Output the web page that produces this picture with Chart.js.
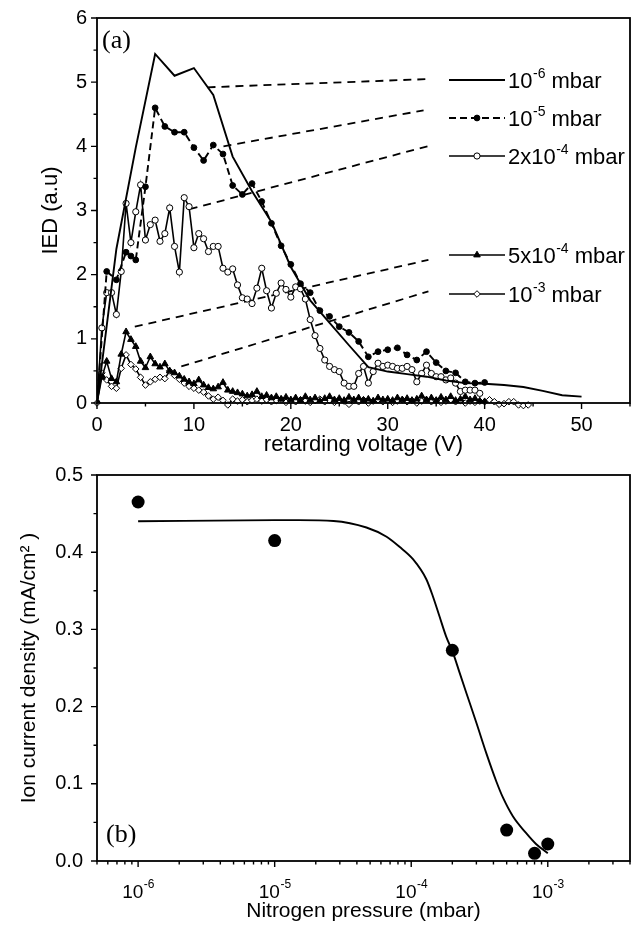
<!DOCTYPE html>
<html>
<head>
<meta charset="utf-8">
<script src="https://cdn.jsdelivr.net/npm/chart.js@4.4.1/dist/chart.umd.min.js"></script>
<style>
  html, body { margin: 0; padding: 0; background: #fff; }
  #chartTop { position: absolute; left: 0; top: 0; }
  #chartBottom { position: absolute; left: 0; top: 455px; }
</style>
</head>
<body>
<canvas id="chartTop" width="639" height="470"></canvas>
<canvas id="chartBottom" width="639" height="478"></canvas>
<script>
// ---- (a) ion energy distribution vs retarding voltage ----
// voltage grid used by the densely sampled series (V)
const vGrid = [
  0, 0.5, 1, 1.5, 2, 2.5, 3, 3.5, 4, 4.5,
  5, 5.5, 6, 6.5, 7, 7.5, 8, 8.5, 9, 9.5,
  10, 10.5, 11, 11.5, 12, 12.5, 13, 13.5, 14, 14.5,
  15, 15.5, 16, 16.5, 17, 17.5, 18, 18.5, 19, 19.5,
  20, 20.5, 21, 21.5, 22, 22.5, 23, 23.5, 24, 24.5,
  25, 25.5, 26, 26.5, 27, 27.5, 28, 28.5, 29, 29.5,
  30, 30.5, 31, 31.5, 32, 32.5, 33, 33.5, 34, 34.5,
  35, 35.5, 36, 36.5, 37, 37.5, 38, 38.5, 39, 39.5,
  40, 40.5, 41, 41.5, 42, 42.5, 43, 43.5, 44, 44.5
];

// 1e-6 mbar (solid line)
const v6 = [0, 2, 4, 6, 8, 10, 12, 14, 16, 18, 20, 22, 24, 26, 28, 30, 32, 34, 36, 38, 40, 42, 44, 46, 48, 50];
const ied6 = [0, 2.4, 3.98, 5.44, 5.1, 5.22, 4.8, 3.84, 3.3, 2.82, 2.12, 1.6, 1.25, 0.9, 0.56, 0.49, 0.45, 0.41, 0.35, 0.31, 0.3, 0.28, 0.25, 0.19, 0.12, 0.1];

// 1e-5 mbar (dashed, filled circles)
const v5 = [0, 1, 2, 3, 3.5, 4, 5, 6, 7, 8, 9, 10, 11, 12, 13, 14, 15, 16, 17, 18, 19, 20, 21, 22, 23, 24, 25, 26, 27, 28, 29, 30, 31, 32, 33, 34, 35, 36, 37, 38, 39, 40];
const ied5 = [0, 2.05, 1.92, 2.35, 2.29, 2.23, 3.37, 4.6, 4.31, 4.22, 4.22, 3.98, 3.78, 4.02, 3.88, 3.39, 3.25, 3.42, 3.14, 2.8, 2.45, 2.16, 1.86, 1.72, 1.44, 1.35, 1.19, 1.1, 0.96, 0.72, 0.8, 0.83, 0.86, 0.75, 0.67, 0.8, 0.63, 0.5, 0.47, 0.33, 0.31, 0.32];

// 2e-4 mbar (open circles), on vGrid from 0 V
const ied2e4 = [
  0, 1.17, 1.72, 1.72, 1.38, 2.05, 3.11, 2.5, 2.98, 3.4,
  2.54, 2.78, 2.85, 2.52, 2.64, 3.04, 2.44, 2.04, 3.2, 3.06,
  2.42, 2.64, 2.56, 2.36, 2.44, 2.44, 2.1, 2.04, 2.09, 1.84,
  1.64, 1.62, 1.55, 1.79, 2.1, 1.75, 1.48, 1.71, 1.87, 1.77,
  1.65, 1.81, 1.78, 1.62, 1.3, 1.05, 0.85, 0.67, 0.57, 0.52,
  0.49, 0.31, 0.26, 0.26, 0.46, 0.57, 0.31, 0.49, 0.62, 0.57,
  0.59, 0.57, 0.54, 0.54, 0.57, 0.52, 0.33, 0.46, 0.59, 0.46,
  0.41, 0.41, 0.36, 0.39, 0.31, 0.18, 0.2, 0.2, 0.2, 0.15
];

// 5e-4 mbar (filled triangles), on vGrid from 0 V
const ied5e4 = [
  0, 0.4, 0.65, 0.38, 0.33, 0.76, 1.11, 0.99, 0.88, 0.65,
  0.55, 0.72, 0.61, 0.56, 0.61, 0.5, 0.47, 0.42, 0.37, 0.33,
  0.3, 0.36, 0.28, 0.24, 0.22, 0.25, 0.32, 0.2, 0.18, 0.16,
  0.14, 0.11, 0.13, 0.18, 0.1, 0.12, 0.08, 0.1, 0.06, 0.09,
  0.05, 0.08, 0.04, 0.1, 0.05, 0.08, 0.03, 0.07, 0.1, 0.05,
  0.07, 0.04, 0.09, 0.05, 0.08, 0.04, 0.06, 0.03, 0.08, 0.05,
  0.06, 0.04, 0.08, 0.05, 0.07, 0.04, 0.06, 0.11, 0.05, 0.08,
  0.04, 0.09, 0.05, 0.1, 0.04, 0.06, 0.1, 0.05, 0.07, 0.03,
  0.02
];

// 1e-3 mbar (open diamonds), on vGrid from 0 V
const ied1e3 = [
  0, 0.47, 0.36, 0.26, 0.23, 0.54, 0.75, 0.6, 0.53, 0.4,
  0.28, 0.33, 0.37, 0.4, 0.38, 0.5, 0.43, 0.37, 0.31, 0.26,
  0.23, 0.2, 0.17, 0.11, 0.06, 0.09, 0.04, -0.03, 0.06, 0.03,
  0.05, 0.02, 0.04, 0.06, 0.03, 0.05, 0.02, 0.04, 0.06, 0.01,
  0.04, 0.02, 0.05, 0.03, 0.01, 0.04, 0.06, 0.02, 0.04, 0.01,
  0.05, 0.03, -0.02, 0.04, 0.02, 0.05, 0, 0.03, 0.05, 0.02,
  0.04, 0.01, 0.03, 0.05, 0.02, 0.04, 0, 0.03, 0.05, 0.02,
  0.04, 0.01, 0.03, 0.05, 0.02, 0.04, 0, 0.03, 0.01, 0.03,
  0.02, 0.05, 0.02, -0.02, -0.01, 0.02, 0.02, -0.03, -0.04, -0.03
];

// dashed pointer lines from each curve to its legend entry: [start, end]
const leaderV = [[11.4, 34.5], [13.05, 33.7], [9.56, 34.1], [3.9, 34.2], [8.7, 34.2]];
const leaderIED = [[4.92, 5.05], [4.0, 4.56], [3.02, 4.0], [1.19, 2.23], [0.57, 1.74]];

const legendBase = ['10', '10', '2x10', '5x10', '10'];
const legendExp = ['-6', '-5', '-4', '-4', '-3'];

const vTicks = [0, 10, 20, 30, 40, 50];
const vMinor = [5, 15, 25, 35, 45, 55];
const iedTicks = [0, 1, 2, 3, 4, 5, 6];
const iedMinor = [0.5, 1.5, 2.5, 3.5, 4.5, 5.5];

// ---- (b) ion current density vs nitrogen pressure ----
const pressure = [1e-6, 1e-5, 2e-4, 5e-4, 8e-4, 1e-3];
const currentDensity = [0.465, 0.415, 0.273, 0.04, 0.01, 0.022];
const fitPressure = [1e-6, 1e-5, 1.5e-5, 2.7e-5, 4.7e-5, 6.6e-5, 8.2e-5, 1.03e-4, 1.29e-4, 1.44e-4, 1.61e-4, 1.8e-4, 2.02e-4, 2.26e-4, 2.53e-4, 3e-4, 3.54e-4, 4.2e-4, 4.7e-4, 5.55e-4, 6.95e-4, 8.2e-4, 1e-3];
const fitDensity = [0.44, 0.4415, 0.4415, 0.4405, 0.432, 0.42, 0.407, 0.391, 0.365, 0.343, 0.317, 0.291, 0.27, 0.244, 0.218, 0.179, 0.14, 0.103, 0.082, 0.058, 0.036, 0.022, 0.01];

const pressureTicks = [1e-6, 1e-5, 1e-4, 1e-3];
const pressureExp = ['-6', '-5', '-4', '-3'];
const densityTicks = [0, 0.1, 0.2, 0.3, 0.4, 0.5];
const densityMinor = [0.05, 0.15, 0.25, 0.35, 0.45];

const fontSans = "'Liberation Sans', Arial, sans-serif";
const fontSerif = "'Liberation Serif', 'Times New Roman', serif";
const black = '#000';

function pts(xs, ys) {
  return ys.map((y, i) => ({ x: xs[i], y: y }));
}

// keep the plot area exactly where the layout padding puts it
function fixWidth(w) {
  return s => { s.width = w; s.paddingTop = 0; s.paddingBottom = 0; };
}
function fixHeight(h) {
  return s => { s.height = h; s.paddingLeft = 0; s.paddingRight = 0; };
}

// frame around the plot area + outward major/minor tick marks
function makeFrame(xMajor, xMinor, yMajor, yMinor) {
  return {
    id: 'frameTicks',
    afterDraw(chart) {
      const { ctx, chartArea: a, scales } = chart;
      ctx.save();
      ctx.strokeStyle = black;
      ctx.lineWidth = 1.8;
      ctx.strokeRect(a.left, a.top, a.right - a.left, a.bottom - a.top);
      ctx.lineWidth = 1.4;
      ctx.beginPath();
      xMajor.forEach(v => { const x = scales.x.getPixelForValue(v); ctx.moveTo(x, a.bottom); ctx.lineTo(x, a.bottom + 6); });
      xMinor.forEach(v => {
        const x = scales.x.getPixelForValue(v);
        if (x < a.left - 0.5 || x > a.right + 0.5) return;
        ctx.moveTo(x, a.bottom); ctx.lineTo(x, a.bottom + 3.5);
      });
      yMajor.forEach(v => { const y = scales.y.getPixelForValue(v); ctx.moveTo(a.left, y); ctx.lineTo(a.left - 6, y); });
      yMinor.forEach(v => { const y = scales.y.getPixelForValue(v); ctx.moveTo(a.left, y); ctx.lineTo(a.left - 3.5, y); });
      ctx.stroke();
      ctx.restore();
    }
  };
}

function makePanelLabel(text, x, y) {
  return {
    id: 'panelLabel',
    afterDraw(chart) {
      const ctx = chart.ctx;
      ctx.save();
      ctx.fillStyle = black;
      ctx.font = '26px ' + fontSerif;
      ctx.textBaseline = 'alphabetic';
      ctx.fillText(text, x, y);
      ctx.restore();
    }
  };
}

// text with a raised exponent, e.g. 10^-6
function drawPower(ctx, x, y, base, exp, size, expSize, rise, rest) {
  ctx.font = size + 'px ' + fontSans;
  ctx.fillText(base, x, y);
  x += ctx.measureText(base).width + 0.5;
  ctx.font = expSize + 'px ' + fontSans;
  ctx.fillText(exp, x, y - rise);
  x += ctx.measureText(exp).width;
  if (rest) {
    ctx.font = size + 'px ' + fontSans;
    ctx.fillText(rest, x, y);
    x += ctx.measureText(rest).width;
  }
  return x;
}

const legendRows = [80, 118, 156, 255, 294];
const insideLegend = {
  id: 'insideLegend',
  afterDraw(chart) {
    const ctx = chart.ctx;
    ctx.save();
    legendRows.forEach((y, i) => {
      const ds = chart.data.datasets[i];
      ctx.strokeStyle = black;
      ctx.lineWidth = ds.borderWidth;
      ctx.setLineDash(ds.borderDash || []);
      ctx.beginPath();
      ctx.moveTo(449, y);
      ctx.lineTo(505, y);
      ctx.stroke();
      ctx.setLineDash([]);
      if (ds.pointRadius > 0) {
        ctx.fillStyle = ds.pointBackgroundColor;
        ctx.strokeStyle = ds.pointBorderColor;
        ctx.lineWidth = ds.pointBorderWidth;
        Chart.helpers.drawPoint(ctx, {
          pointStyle: ds.pointStyle, radius: ds.pointRadius, rotation: 0, borderWidth: ds.pointBorderWidth
        }, 477, y);
      }
      ctx.fillStyle = black;
      ctx.textBaseline = 'alphabetic';
      drawPower(ctx, 508, y + 8, legendBase[i], legendExp[i], 22, 14, 10, ' mbar');
    });
    ctx.restore();
  }
};

const pressureLabels = {
  id: 'pressureLabels',
  afterDraw(chart) {
    const { ctx, chartArea: a, scales } = chart;
    ctx.save();
    ctx.fillStyle = black;
    ctx.textBaseline = 'alphabetic';
    pressureTicks.forEach((p, i) => {
      ctx.font = '19px ' + fontSans;
      const w1 = ctx.measureText('10').width;
      ctx.font = '12px ' + fontSans;
      const w2 = ctx.measureText(pressureExp[i]).width;
      const x = scales.x.getPixelForValue(p) - (w1 + w2) / 2;
      drawPower(ctx, x, a.bottom + 37, '10', pressureExp[i], 19, 12, 10, '');
    });
    ctx.restore();
  }
};

// ---- chart (a) ----
const leaderSets = leaderV.map((xs, i) => ({
  data: pts(xs, leaderIED[i]),
  borderColor: black, borderWidth: 1.8, borderDash: [8, 6], pointRadius: 0
}));

new Chart(document.getElementById('chartTop'), {
  type: 'line',
  data: {
    datasets: [
      { label: '1e-6 mbar', data: pts(v6, ied6), borderColor: black, borderWidth: 1.9, pointRadius: 0 },
      { label: '1e-5 mbar', data: pts(v5, ied5), borderColor: black, borderWidth: 1.9, borderDash: [7, 4],
        pointStyle: 'circle', pointRadius: 2.9, pointBackgroundColor: black, pointBorderColor: black, pointBorderWidth: 1 },
      { label: '2x1e-4 mbar', data: pts(vGrid, ied2e4), borderColor: black, borderWidth: 1.6,
        pointStyle: 'circle', pointRadius: 3.1, pointBackgroundColor: '#fff', pointBorderColor: black, pointBorderWidth: 1 },
      { label: '5x1e-4 mbar', data: pts(vGrid, ied5e4), borderColor: black, borderWidth: 1.6,
        pointStyle: 'triangle', pointRadius: 3.8, pointBackgroundColor: black, pointBorderColor: black, pointBorderWidth: 1 },
      { label: '1e-3 mbar', data: pts(vGrid, ied1e3), borderColor: black, borderWidth: 1.6, clip: 8,
        pointStyle: 'rectRot', pointRadius: 3.3, pointBackgroundColor: '#fff', pointBorderColor: black, pointBorderWidth: 1 }
    ].concat(leaderSets)
  },
  options: {
    responsive: false,
    animation: false,
    events: [],
    layout: { autoPadding: false, padding: { top: 18, right: 9, left: 0, bottom: 0 } },
    plugins: { legend: { display: false }, tooltip: { enabled: false } },
    scales: {
      x: {
        type: 'linear', min: 0, max: 55,
        grid: { display: false, drawTicks: false },
        border: { display: false },
        afterBuildTicks: s => { s.ticks = vTicks.map(v => ({ value: v })); },
        afterFit: fixHeight(67),
        ticks: { color: black, font: { family: fontSans, size: 20 }, padding: 10, maxRotation: 0 },
        title: { display: true, text: 'retarding voltage (V)', color: black,
                 font: { family: fontSans, size: 22 }, padding: { top: 0, bottom: 12 } }
      },
      y: {
        type: 'linear', min: 0, max: 6,
        grid: { display: false, drawTicks: false },
        border: { display: false },
        afterBuildTicks: s => { s.ticks = iedTicks.map(v => ({ value: v })); },
        afterFit: fixWidth(97),
        ticks: { color: black, font: { family: fontSans, size: 20 }, padding: 10 },
        title: { display: true, text: 'IED (a.u)', color: black,
                 font: { family: fontSans, size: 22 }, padding: { top: 38, bottom: 0 } }
      }
    }
  },
  plugins: [makeFrame(vTicks, vMinor, iedTicks, iedMinor), insideLegend, makePanelLabel('(a)', 102, 48)]
});

// ---- chart (b) ----
const pressureMinor = [];
[1e-7, 1e-6, 1e-5, 1e-4, 1e-3].forEach(d => { [2, 3, 4, 5, 6, 7, 8, 9].forEach(m => pressureMinor.push(m * d)); });

new Chart(document.getElementById('chartBottom'), {
  type: 'line',
  data: {
    datasets: [
      { label: 'measured', data: pts(pressure, currentDensity), showLine: false,
        pointStyle: 'circle', pointRadius: 6.5, pointBackgroundColor: black, pointBorderColor: black, pointBorderWidth: 0 },
      { label: 'fit', data: pts(fitPressure, fitDensity), borderColor: black, borderWidth: 1.9,
        pointRadius: 0, cubicInterpolationMode: 'monotone' }
    ]
  },
  options: {
    responsive: false,
    animation: false,
    events: [],
    layout: { autoPadding: false, padding: { top: 20, right: 9, left: 0, bottom: 0 } },
    plugins: { legend: { display: false }, tooltip: { enabled: false } },
    scales: {
      x: {
        type: 'logarithmic', min: 5e-7, max: 4e-3,
        grid: { display: false, drawTicks: false },
        border: { display: false },
        afterBuildTicks: s => { s.ticks = pressureTicks.map(v => ({ value: v })); },
        afterFit: fixHeight(72),
        ticks: { display: false },
        title: { display: true, text: 'Nitrogen pressure (mbar)', color: black,
                 font: { family: fontSans, size: 21 }, padding: { top: 0, bottom: 9 } }
      },
      y: {
        type: 'linear', min: 0, max: 0.5,
        grid: { display: false, drawTicks: false },
        border: { display: false },
        afterBuildTicks: s => { s.ticks = densityTicks.map(v => ({ value: v })); },
        afterFit: fixWidth(97),
        ticks: { color: black, font: { family: fontSans, size: 20 }, padding: 14,
                 callback: v => Number(v).toFixed(1) },
        title: { display: true, text: 'Ion current density (mA/cm\u00B2 )', color: black,
                 font: { family: fontSans, size: 21 }, padding: { top: 17, bottom: 0 } }
      }
    }
  },
  plugins: [makeFrame(pressureTicks, pressureMinor, densityTicks, densityMinor), pressureLabels, makePanelLabel('(b)', 106, 387)]
});
</script>
</body>
</html>
